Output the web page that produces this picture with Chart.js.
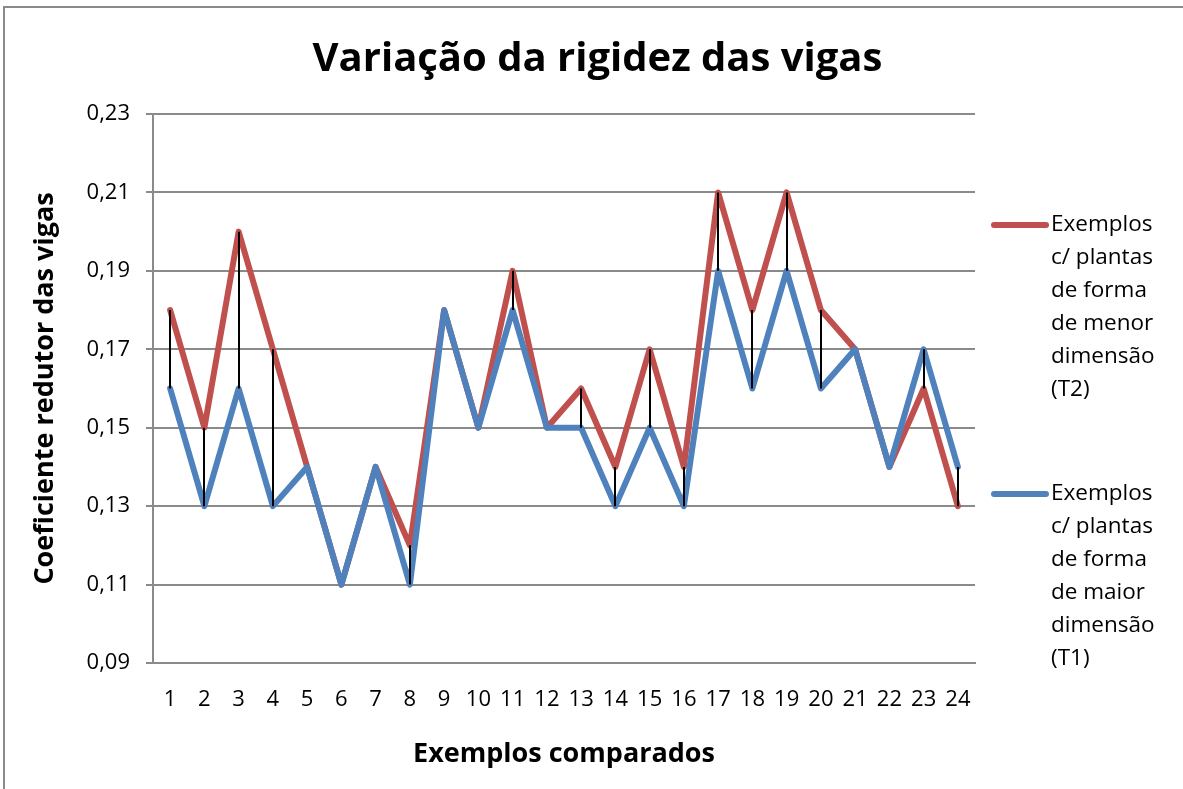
<!DOCTYPE html>
<html>
<head>
<meta charset="utf-8">
<script src="https://cdn.jsdelivr.net/npm/chart.js@4"></script>
<style>
  html, body { margin: 0; padding: 0; background: #fff; overflow: hidden; }
  #wrap { position: relative; width: 1183px; height: 789px; }
  #frame {
    position: absolute; left: 3px; top: 6px; width: 1300px; height: 900px;
    border: 2px solid #8a8a8a; box-sizing: border-box;
  }
  #myChart { position: absolute; left: 0; top: 0; }
</style>
</head>
<body>
<div id="wrap">
  <div id="frame"></div>
  <canvas id="myChart" width="1183" height="789"></canvas>
</div>
<script>
// exemplos 1..24
const exemplos = ['1','2','3','4','5','6','7','8','9','10','11','12','13','14','15','16','17','18','19','20','21','22','23','24'];

// coeficiente redutor - plantas de forma de menor dimensão (T2)
const valoresT2 = [0.18,0.15,0.20,0.17,0.14,0.11,0.14,0.12,0.18,0.15,0.19,0.15,0.16,0.14,0.17,0.14,0.21,0.18,0.21,0.18,0.17,0.14,0.16,0.13];
// coeficiente redutor - plantas de forma de maior dimensão (T1)
const valoresT1 = [0.16,0.13,0.16,0.13,0.14,0.11,0.14,0.11,0.18,0.15,0.18,0.15,0.15,0.13,0.15,0.13,0.19,0.16,0.19,0.16,0.17,0.14,0.17,0.14];

const nomeT2 = 'Exemplos c/ plantas de forma de menor dimensão (T2)';
const nomeT1 = 'Exemplos c/ plantas de forma de maior dimensão (T1)';
const titulo = 'Variação da rigidez das vigas';

const yMin = 0.09, yMax = 0.23, yStep = 0.02;

const FONT = "'Open Sans', 'DejaVu Sans', sans-serif";
const GRID = '#8a8a8a';

// linhas máximo-mínimo entre as duas séries
const highLow = {
    id: 'highLow',
    afterDatasetsDraw(chart) {
        const ctx = chart.ctx;
        const x = chart.scales.x, y = chart.scales.y;
        const a = chart.data.datasets[0].data, b = chart.data.datasets[1].data;
        ctx.save();
        ctx.strokeStyle = '#000';
        ctx.lineWidth = 2;
        for (let i = 0; i < a.length; i++) {
            if (a[i] === b[i]) continue;
            const px = Math.round(x.getPixelForValue(i));
            ctx.beginPath();
            ctx.moveTo(px, y.getPixelForValue(a[i]));
            ctx.lineTo(px, y.getPixelForValue(b[i]));
            ctx.stroke();
        }
        ctx.restore();
    }
};

// título centrado na largura toda da figura
const bigTitle = {
    id: 'bigTitle',
    afterDraw(chart) {
        const ctx = chart.ctx;
        ctx.save();
        ctx.font = 'bold 40px ' + FONT;
        ctx.fillStyle = '#000';
        ctx.textAlign = 'center';
        ctx.textBaseline = 'middle';
        ctx.fillText(titulo, chart.width / 2 + 6, 60);
        ctx.restore();
    }
};

// legenda à direita, com quebra de linha
function wrap(ctx, text, maxW) {
    const words = text.split(' ');
    let lines = [], cur = '';
    words.forEach(w => {
        const t = cur ? cur + ' ' + w : w;
        if (ctx.measureText(t).width > maxW && cur) {
            lines.push(cur);
            cur = w;
        } else {
            cur = t;
        }
    });
    if (cur) lines.push(cur);
    return lines;
}

const sideLegend = {
    id: 'sideLegend',
    afterDraw(chart) {
        const ctx = chart.ctx;
        const starts = [225, 494];
        ctx.save();
        ctx.font = '22.5px ' + FONT;
        ctx.textBaseline = 'middle';
        ctx.fillStyle = '#000';
        chart.data.datasets.forEach((ds, i) => {
            const y0 = starts[i];
            ctx.strokeStyle = ds.borderColor;
            ctx.lineWidth = 6;
            ctx.lineCap = 'round';
            ctx.beginPath();
            ctx.moveTo(994, y0);
            ctx.lineTo(1046, y0);
            ctx.stroke();
            const lines = wrap(ctx, ds.label, 118);
            lines.forEach((l, k) => ctx.fillText(l, 1051, y0 + k * 33));
        });
        ctx.restore();
    }
};

const ctx = document.getElementById('myChart').getContext('2d');
const myChart = new Chart(ctx, {
    type: 'line',
    data: {
        labels: exemplos,
        datasets: [{
            label: nomeT2,
            data: valoresT2,
            borderColor: '#c0504d',
            borderWidth: 6,
            order: 2
        }, {
            label: nomeT1,
            data: valoresT1,
            borderColor: '#4f81bd',
            borderWidth: 6,
            order: 1
        }]
    },
    options: {
        responsive: false,
        animation: false,
        layout: { padding: { left: 0, right: 208, top: 114, bottom: 0 } },
        elements: {
            point: { radius: 0 },
            line: { tension: 0, borderCapStyle: 'round', borderJoinStyle: 'round' }
        },
        plugins: {
            legend: { display: false },
            tooltip: { enabled: false },
            title: { display: false }
        },
        scales: {
            x: {
                offset: true,
                grid: { display: false, drawTicks: false },
                border: { display: true, color: GRID, width: 2 },
                ticks: {
                    color: '#000',
                    font: { family: FONT, size: 22 },
                    padding: 24,
                    autoSkip: false,
                    maxRotation: 0
                },
                title: {
                    display: true,
                    text: 'Exemplos comparados',
                    color: '#000',
                    font: { family: FONT, size: 27, weight: 'bold' },
                    padding: { top: 0, bottom: 18 }
                },
                afterFit(scale) { scale.height = 126; }
            },
            y: {
                min: yMin,
                max: yMax,
                grid: { color: GRID, lineWidth: 2, tickLength: 7, tickColor: GRID },
                border: { display: true, color: GRID, width: 2 },
                ticks: {
                    stepSize: yStep,
                    color: '#000',
                    font: { family: FONT, size: 22 },
                    padding: 16,
                    callback: v => v.toFixed(2).replace('.', ',')
                },
                title: {
                    display: true,
                    text: 'Coeficiente redutor das vigas',
                    color: '#000',
                    font: { family: FONT, size: 27, weight: 'bold' },
                    padding: { top: 29, bottom: 0 }
                },
                afterFit(scale) { scale.width = 153; }
            }
        }
    },
    plugins: [highLow, bigTitle, sideLegend]
});
</script>
</body>
</html>
